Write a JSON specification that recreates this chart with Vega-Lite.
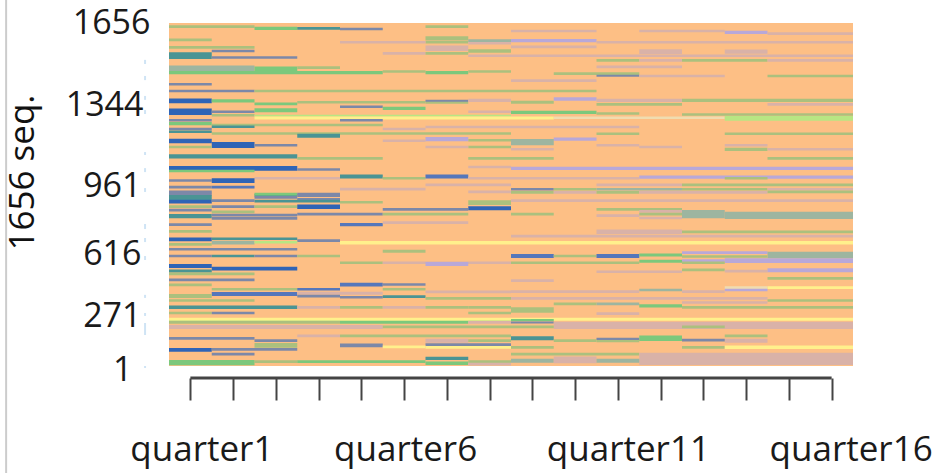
{"$schema":"https://vega.github.io/schema/vega-lite/v6.json","width":684,"height":355,"autosize":"none","padding":{"left":169,"top":23,"right":82,"bottom":95},"background":"white","view":{"stroke":null},
"encoding":{"x":{"field":"q0","type":"quantitative","scale":{"domain":[0.5,16.5],"nice":false,"zero":false},"axis":{"values":[1,2,3,4,5,6,7,8,9,10,11,12,13,14,15,16],"title":null,"domain":false,"grid":false,"tickColor":"#444444","tickWidth":2,"tickSize":22,"labelFont":"Open Sans","labelFontSize":35,"labelColor":"#1a1a1a","labelPadding":32,"labelOverlap":false,"labelBound":false,"labelFlush":false,"labelExpr":"(datum.value==1||datum.value==6||datum.value==11||datum.value==16)?'quarter'+datum.value:''","labelOffset":{"condition":[{"test":"datum.value==1","value":11},{"test":"datum.value==11","value":10},{"test":"datum.value==16","value":19}],"value":1}}},
"y":{"field":"seq0","type":"quantitative","scale":{"domain":[-60,1,271,616,961,1344,1656],"range":[355,343,290,228,161,81,0],"nice":false,"zero":false},"axis":{"values":[1,271,616,961,1344,1656],"format":"d","title":"1656 seq.","titleFont":"Open Sans","titleFontSize":35,"titleFontWeight":"normal","titleColor":"#111111","titleX":-147,"titleY":149,"titleAngle":270,"titleAlign":"center","titleBaseline":"middle","domain":false,"grid":false,"ticks":false,"labelFont":"Open Sans","labelFontSize":34,"labelColor":"#1a1a1a","labelBaseline":"middle","labelAlign":"right","labelOffset":{"condition":[{"test":"datum.value==1656","value":0},{"test":"datum.value==1344","value":1},{"test":"datum.value==961","value":2},{"test":"datum.value==1","value":4}],"value":3},"labelPadding":{"condition":[{"test":"datum.value==1656","value":19},{"test":"datum.value==1344","value":26},{"test":"datum.value==1","value":37}],"value":28}}}},
"layer":[
{"mark":{"type":"rect","strokeWidth":0},"encoding":{"x2":{"field":"q1"},"y2":{"field":"seq1"},"color":{"field":"state","type":"nominal","legend":null,"scale":{"domain":["orange","green","sage","blue","slate","teal","purple","mauve","yellow","lime","grey","azure","pale"],"range":["#fdbf85","#7cc87c","#abc07e","#2f64b6","#7c88a8","#4a9494","#b8a8d8","#d9b2a8","#fff08c","#b8e683","#9db5a0","#5577bb","#f0dcb0"]}}},
"data":{"values":[
{"q0":0.5,"q1":16.5,"seq0":1,"seq1":1656,"state":"orange"},
{"q0":0.5,"q1":2.5,"seq0":1637,"seq1":1647,"state":"sage"},
{"q0":2.5,"q1":3.5,"seq0":1629,"seq1":1642,"state":"green"},
{"q0":3.5,"q1":4.5,"seq0":1630,"seq1":1641,"state":"teal"},
{"q0":4.5,"q1":5.5,"seq0":1628,"seq1":1638,"state":"slate"},
{"q0":6.5,"q1":7.5,"seq0":1637,"seq1":1647,"state":"sage"},
{"q0":8.5,"q1":10.5,"seq0":1620,"seq1":1630,"state":"mauve"},
{"q0":11.5,"q1":13.5,"seq0":1620,"seq1":1630,"state":"mauve"},
{"q0":13.5,"q1":14.5,"seq0":1614,"seq1":1626,"state":"purple"},
{"q0":14.5,"q1":16.5,"seq0":1610,"seq1":1620,"state":"mauve"},
{"q0":8.5,"q1":10.5,"seq0":1582,"seq1":1594,"state":"purple"},
{"q0":10.5,"q1":16.5,"seq0":1577,"seq1":1587,"state":"mauve"},
{"q0":8.5,"q1":10.5,"seq0":1559,"seq1":1569,"state":"mauve"},
{"q0":11.5,"q1":12.5,"seq0":1537,"seq1":1555,"state":"mauve"},
{"q0":13.5,"q1":14.5,"seq0":1538,"seq1":1554,"state":"mauve"},
{"q0":8.5,"q1":16.5,"seq0":1525,"seq1":1535,"state":"mauve"},
{"q0":10.5,"q1":11.5,"seq0":1507,"seq1":1517,"state":"sage"},
{"q0":11.5,"q1":12.5,"seq0":1507,"seq1":1517,"state":"mauve"},
{"q0":12.5,"q1":14.5,"seq0":1507,"seq1":1517,"state":"sage"},
{"q0":14.5,"q1":16.5,"seq0":1507,"seq1":1517,"state":"mauve"},
{"q0":10.5,"q1":12.5,"seq0":1482,"seq1":1492,"state":"mauve"},
{"q0":9.5,"q1":11.5,"seq0":1456,"seq1":1466,"state":"sage"},
{"q0":10.5,"q1":11.5,"seq0":1449,"seq1":1457,"state":"slate"},
{"q0":11.5,"q1":13.5,"seq0":1447,"seq1":1457,"state":"mauve"},
{"q0":14.5,"q1":16.5,"seq0":1447,"seq1":1457,"state":"sage"},
{"q0":8.5,"q1":10.5,"seq0":1429,"seq1":1439,"state":"mauve"},
{"q0":0.5,"q1":1.5,"seq0":1586,"seq1":1596,"state":"sage"},
{"q0":6.5,"q1":7.5,"seq0":1589,"seq1":1605,"state":"sage"},
{"q0":6.5,"q1":7.5,"seq0":1577,"seq1":1587,"state":"sage"},
{"q0":4.5,"q1":6.5,"seq0":1577,"seq1":1587,"state":"mauve"},
{"q0":7.5,"q1":8.5,"seq0":1583,"seq1":1593,"state":"grey"},
{"q0":7.5,"q1":8.5,"seq0":1573,"seq1":1583,"state":"mauve"},
{"q0":0.5,"q1":2.5,"seq0":1557,"seq1":1567,"state":"sage"},
{"q0":6.5,"q1":7.5,"seq0":1548,"seq1":1569,"state":"mauve"},
{"q0":1.5,"q1":2.5,"seq0":1543,"seq1":1553,"state":"slate"},
{"q0":0.5,"q1":1.5,"seq0":1517,"seq1":1543,"state":"teal"},
{"q0":1.5,"q1":3.5,"seq0":1518,"seq1":1528,"state":"slate"},
{"q0":5.5,"q1":6.5,"seq0":1534,"seq1":1544,"state":"mauve"},
{"q0":6.5,"q1":7.5,"seq0":1534,"seq1":1544,"state":"sage"},
{"q0":7.5,"q1":8.5,"seq0":1541,"seq1":1555,"state":"sage"},
{"q0":7.5,"q1":8.5,"seq0":1525,"seq1":1535,"state":"mauve"},
{"q0":0.5,"q1":2.5,"seq0":1471,"seq1":1492,"state":"grey"},
{"q0":2.5,"q1":3.5,"seq0":1467,"seq1":1488,"state":"green"},
{"q0":3.5,"q1":4.5,"seq0":1479,"seq1":1489,"state":"sage"},
{"q0":0.5,"q1":5.5,"seq0":1459,"seq1":1471,"state":"green"},
{"q0":5.5,"q1":6.5,"seq0":1464,"seq1":1474,"state":"sage"},
{"q0":6.5,"q1":7.5,"seq0":1459,"seq1":1471,"state":"green"},
{"q0":7.5,"q1":8.5,"seq0":1464,"seq1":1474,"state":"sage"},
{"q0":0.5,"q1":1.5,"seq0":1415,"seq1":1425,"state":"slate"},
{"q0":0.5,"q1":2.5,"seq0":1389,"seq1":1399,"state":"slate"},
{"q0":2.5,"q1":10.5,"seq0":1389,"seq1":1399,"state":"sage"},
{"q0":0.5,"q1":1.5,"seq0":1347,"seq1":1365,"state":"blue"},
{"q0":1.5,"q1":2.5,"seq0":1350,"seq1":1362,"state":"green"},
{"q0":2.5,"q1":3.5,"seq0":1338,"seq1":1350,"state":"green"},
{"q0":3.5,"q1":6.5,"seq0":1346,"seq1":1356,"state":"sage"},
{"q0":4.5,"q1":5.5,"seq0":1325,"seq1":1337,"state":"slate"},
{"q0":5.5,"q1":6.5,"seq0":1315,"seq1":1331,"state":"green"},
{"q0":6.5,"q1":7.5,"seq0":1352,"seq1":1360,"state":"slate"},
{"q0":6.5,"q1":7.5,"seq0":1345,"seq1":1353,"state":"sage"},
{"q0":7.5,"q1":8.5,"seq0":1352,"seq1":1364,"state":"mauve"},
{"q0":8.5,"q1":9.5,"seq0":1345,"seq1":1357,"state":"sage"},
{"q0":9.5,"q1":10.5,"seq0":1357,"seq1":1370,"state":"purple"},
{"q0":10.5,"q1":12.5,"seq0":1352,"seq1":1364,"state":"mauve"},
{"q0":12.5,"q1":16.5,"seq0":1352,"seq1":1364,"state":"sage"},
{"q0":10.5,"q1":12.5,"seq0":1336,"seq1":1348,"state":"sage"},
{"q0":14.5,"q1":16.5,"seq0":1336,"seq1":1348,"state":"mauve"},
{"q0":0.5,"q1":1.5,"seq0":1291,"seq1":1323,"state":"blue"},
{"q0":1.5,"q1":2.5,"seq0":1301,"seq1":1313,"state":"slate"},
{"q0":1.5,"q1":2.5,"seq0":1284,"seq1":1296,"state":"sage"},
{"q0":2.5,"q1":3.5,"seq0":1304,"seq1":1324,"state":"green"},
{"q0":7.5,"q1":8.5,"seq0":1301,"seq1":1313,"state":"mauve"},
{"q0":8.5,"q1":10.5,"seq0":1296,"seq1":1312,"state":"green"},
{"q0":10.5,"q1":11.5,"seq0":1292,"seq1":1304,"state":"sage"},
{"q0":12.5,"q1":16.5,"seq0":1288,"seq1":1300,"state":"sage"},
{"q0":2.5,"q1":8.5,"seq0":1284,"seq1":1292,"state":"lime"},
{"q0":2.5,"q1":9.5,"seq0":1270,"seq1":1284,"state":"yellow"},
{"q0":9.5,"q1":13.5,"seq0":1272,"seq1":1284,"state":"pale"},
{"q0":13.5,"q1":16.5,"seq0":1264,"seq1":1286,"state":"lime"},
{"q0":0.5,"q1":1.5,"seq0":1260,"seq1":1272,"state":"slate"},
{"q0":4.5,"q1":5.5,"seq0":1260,"seq1":1272,"state":"slate"},
{"q0":0.5,"q1":1.5,"seq0":1242,"seq1":1258,"state":"green"},
{"q0":1.5,"q1":5.5,"seq0":1237,"seq1":1250,"state":"sage"},
{"q0":1.5,"q1":2.5,"seq0":1229,"seq1":1241,"state":"teal"},
{"q0":0.5,"q1":1.5,"seq0":1218,"seq1":1230,"state":"slate"},
{"q0":5.5,"q1":6.5,"seq0":1218,"seq1":1230,"state":"mauve"},
{"q0":6.5,"q1":11.5,"seq0":1228,"seq1":1240,"state":"mauve"},
{"q0":0.5,"q1":1.5,"seq0":1205,"seq1":1217,"state":"teal"},
{"q0":1.5,"q1":8.5,"seq0":1197,"seq1":1209,"state":"sage"},
{"q0":10.5,"q1":11.5,"seq0":1196,"seq1":1208,"state":"sage"},
{"q0":13.5,"q1":16.5,"seq0":1196,"seq1":1208,"state":"sage"},
{"q0":3.5,"q1":4.5,"seq0":1182,"seq1":1202,"state":"teal"},
{"q0":9.5,"q1":10.5,"seq0":1168,"seq1":1184,"state":"purple"},
{"q0":8.5,"q1":9.5,"seq0":1146,"seq1":1176,"state":"grey"},
{"q0":7.5,"q1":8.5,"seq0":1164,"seq1":1176,"state":"sage"},
{"q0":8.5,"q1":9.5,"seq0":1121,"seq1":1133,"state":"mauve"},
{"q0":7.5,"q1":8.5,"seq0":1132,"seq1":1144,"state":"sage"},
{"q0":10.5,"q1":11.5,"seq0":1141,"seq1":1153,"state":"mauve"},
{"q0":11.5,"q1":12.5,"seq0":1132,"seq1":1144,"state":"mauve"},
{"q0":13.5,"q1":14.5,"seq0":1141,"seq1":1153,"state":"mauve"},
{"q0":13.5,"q1":14.5,"seq0":1119,"seq1":1135,"state":"sage"},
{"q0":14.5,"q1":16.5,"seq0":1121,"seq1":1133,"state":"mauve"},
{"q0":0.5,"q1":1.5,"seq0":1156,"seq1":1178,"state":"blue"},
{"q0":1.5,"q1":2.5,"seq0":1133,"seq1":1162,"state":"blue"},
{"q0":2.5,"q1":3.5,"seq0":1141,"seq1":1153,"state":"slate"},
{"q0":0.5,"q1":1.5,"seq0":1132,"seq1":1144,"state":"sage"},
{"q0":5.5,"q1":6.5,"seq0":1162,"seq1":1174,"state":"mauve"},
{"q0":6.5,"q1":7.5,"seq0":1166,"seq1":1186,"state":"purple"},
{"q0":6.5,"q1":7.5,"seq0":1132,"seq1":1144,"state":"mauve"},
{"q0":0.5,"q1":3.5,"seq0":1083,"seq1":1103,"state":"teal"},
{"q0":3.5,"q1":5.5,"seq0":1077,"seq1":1090,"state":"sage"},
{"q0":7.5,"q1":9.5,"seq0":1077,"seq1":1090,"state":"sage"},
{"q0":14.5,"q1":16.5,"seq0":1077,"seq1":1090,"state":"sage"},
{"q0":0.5,"q1":3.5,"seq0":1025,"seq1":1047,"state":"blue"},
{"q0":3.5,"q1":4.5,"seq0":1025,"seq1":1037,"state":"slate"},
{"q0":0.5,"q1":2.5,"seq0":1017,"seq1":1029,"state":"green"},
{"q0":7.5,"q1":8.5,"seq0":1036,"seq1":1048,"state":"mauve"},
{"q0":8.5,"q1":16.5,"seq0":1028,"seq1":1044,"state":"purple"},
{"q0":4.5,"q1":5.5,"seq0":987,"seq1":1007,"state":"teal"},
{"q0":5.5,"q1":6.5,"seq0":982,"seq1":994,"state":"sage"},
{"q0":6.5,"q1":7.5,"seq0":987,"seq1":1007,"state":"azure"},
{"q0":2.5,"q1":4.5,"seq0":982,"seq1":994,"state":"mauve"},
{"q0":7.5,"q1":11.5,"seq0":982,"seq1":994,"state":"mauve"},
{"q0":11.5,"q1":16.5,"seq0":986,"seq1":1002,"state":"purple"},
{"q0":13.5,"q1":14.5,"seq0":982,"seq1":994,"state":"sage"},
{"q0":0.5,"q1":1.5,"seq0":972,"seq1":984,"state":"slate"},
{"q0":1.5,"q1":2.5,"seq0":966,"seq1":988,"state":"blue"},
{"q0":6.5,"q1":8.5,"seq0":949,"seq1":963,"state":"mauve"},
{"q0":10.5,"q1":12.5,"seq0":949,"seq1":963,"state":"mauve"},
{"q0":12.5,"q1":16.5,"seq0":949,"seq1":963,"state":"sage"},
{"q0":0.5,"q1":1.5,"seq0":938,"seq1":952,"state":"slate"},
{"q0":1.5,"q1":2.5,"seq0":938,"seq1":952,"state":"azure"},
{"q0":4.5,"q1":6.5,"seq0":928,"seq1":942,"state":"mauve"},
{"q0":8.5,"q1":9.5,"seq0":927,"seq1":941,"state":"slate"},
{"q0":9.5,"q1":10.5,"seq0":927,"seq1":941,"state":"sage"},
{"q0":10.5,"q1":12.5,"seq0":927,"seq1":941,"state":"grey"},
{"q0":12.5,"q1":14.5,"seq0":927,"seq1":941,"state":"sage"},
{"q0":14.5,"q1":16.5,"seq0":927,"seq1":941,"state":"mauve"},
{"q0":0.5,"q1":1.5,"seq0":914,"seq1":928,"state":"slate"},
{"q0":7.5,"q1":8.5,"seq0":914,"seq1":928,"state":"mauve"},
{"q0":8.5,"q1":9.5,"seq0":911,"seq1":925,"state":"sage"},
{"q0":9.5,"q1":10.5,"seq0":911,"seq1":925,"state":"mauve"},
{"q0":10.5,"q1":11.5,"seq0":911,"seq1":925,"state":"sage"},
{"q0":11.5,"q1":14.5,"seq0":911,"seq1":925,"state":"mauve"},
{"q0":14.5,"q1":16.5,"seq0":914,"seq1":928,"state":"sage"},
{"q0":2.5,"q1":3.5,"seq0":897,"seq1":911,"state":"teal"},
{"q0":2.5,"q1":3.5,"seq0":902,"seq1":916,"state":"green"},
{"q0":3.5,"q1":4.5,"seq0":902,"seq1":916,"state":"slate"},
{"q0":0.5,"q1":1.5,"seq0":902,"seq1":916,"state":"slate"},
{"q0":0.5,"q1":1.5,"seq0":879,"seq1":904,"state":"teal"},
{"q0":3.5,"q1":4.5,"seq0":894,"seq1":908,"state":"slate"},
{"q0":2.5,"q1":3.5,"seq0":885,"seq1":899,"state":"slate"},
{"q0":3.5,"q1":4.5,"seq0":875,"seq1":889,"state":"slate"},
{"q0":0.5,"q1":1.5,"seq0":860,"seq1":880,"state":"blue"},
{"q0":1.5,"q1":2.5,"seq0":868,"seq1":882,"state":"slate"},
{"q0":2.5,"q1":4.5,"seq0":866,"seq1":880,"state":"teal"},
{"q0":4.5,"q1":5.5,"seq0":860,"seq1":874,"state":"sage"},
{"q0":7.5,"q1":8.5,"seq0":853,"seq1":877,"state":"sage"},
{"q0":8.5,"q1":16.5,"seq0":868,"seq1":882,"state":"mauve"},
{"q0":0.5,"q1":1.5,"seq0":837,"seq1":851,"state":"sage"},
{"q0":1.5,"q1":2.5,"seq0":837,"seq1":851,"state":"slate"},
{"q0":2.5,"q1":3.5,"seq0":837,"seq1":851,"state":"sage"},
{"q0":3.5,"q1":4.5,"seq0":832,"seq1":856,"state":"blue"},
{"q0":7.5,"q1":8.5,"seq0":826,"seq1":846,"state":"blue"},
{"q0":0.5,"q1":1.5,"seq0":820,"seq1":834,"state":"slate"},
{"q0":1.5,"q1":2.5,"seq0":811,"seq1":825,"state":"sage"},
{"q0":5.5,"q1":7.5,"seq0":823,"seq1":837,"state":"slate"},
{"q0":10.5,"q1":12.5,"seq0":823,"seq1":837,"state":"sage"},
{"q0":12.5,"q1":13.5,"seq0":784,"seq1":827,"state":"grey"},
{"q0":13.5,"q1":16.5,"seq0":781,"seq1":818,"state":"grey"},
{"q0":11.5,"q1":12.5,"seq0":813,"seq1":827,"state":"mauve"},
{"q0":8.5,"q1":9.5,"seq0":799,"seq1":813,"state":"sage"},
{"q0":10.5,"q1":11.5,"seq0":791,"seq1":805,"state":"mauve"},
{"q0":11.5,"q1":12.5,"seq0":799,"seq1":813,"state":"sage"},
{"q0":11.5,"q1":12.5,"seq0":779,"seq1":793,"state":"mauve"},
{"q0":0.5,"q1":1.5,"seq0":784,"seq1":806,"state":"teal"},
{"q0":1.5,"q1":3.5,"seq0":794,"seq1":808,"state":"slate"},
{"q0":1.5,"q1":3.5,"seq0":777,"seq1":791,"state":"slate"},
{"q0":3.5,"q1":5.5,"seq0":799,"seq1":813,"state":"slate"},
{"q0":5.5,"q1":7.5,"seq0":799,"seq1":813,"state":"sage"},
{"q0":0.5,"q1":1.5,"seq0":745,"seq1":759,"state":"slate"},
{"q0":4.5,"q1":5.5,"seq0":744,"seq1":760,"state":"azure"},
{"q0":5.5,"q1":7.5,"seq0":755,"seq1":769,"state":"mauve"},
{"q0":0.5,"q1":1.5,"seq0":710,"seq1":724,"state":"sage"},
{"q0":10.5,"q1":12.5,"seq0":703,"seq1":727,"state":"mauve"},
{"q0":12.5,"q1":16.5,"seq0":708,"seq1":722,"state":"sage"},
{"q0":8.5,"q1":16.5,"seq0":686,"seq1":700,"state":"mauve"},
{"q0":0.5,"q1":1.5,"seq0":666,"seq1":686,"state":"blue"},
{"q0":1.5,"q1":3.5,"seq0":672,"seq1":686,"state":"teal"},
{"q0":3.5,"q1":4.5,"seq0":662,"seq1":676,"state":"slate"},
{"q0":1.5,"q1":2.5,"seq0":649,"seq1":669,"state":"grey"},
{"q0":2.5,"q1":3.5,"seq0":654,"seq1":668,"state":"lime"},
{"q0":4.5,"q1":16.5,"seq0":650,"seq1":668,"state":"yellow"},
{"q0":0.5,"q1":1.5,"seq0":643,"seq1":657,"state":"sage"},
{"q0":0.5,"q1":3.5,"seq0":618,"seq1":632,"state":"slate"},
{"q0":5.5,"q1":6.5,"seq0":606,"seq1":622,"state":"sage"},
{"q0":12.5,"q1":14.5,"seq0":600,"seq1":614,"state":"purple"},
{"q0":14.5,"q1":16.5,"seq0":575,"seq1":612,"state":"grey"},
{"q0":8.5,"q1":9.5,"seq0":577,"seq1":599,"state":"azure"},
{"q0":9.5,"q1":10.5,"seq0":581,"seq1":595,"state":"sage"},
{"q0":10.5,"q1":11.5,"seq0":577,"seq1":599,"state":"azure"},
{"q0":11.5,"q1":12.5,"seq0":586,"seq1":602,"state":"green"},
{"q0":12.5,"q1":14.5,"seq0":578,"seq1":592,"state":"sage"},
{"q0":0.5,"q1":1.5,"seq0":581,"seq1":595,"state":"slate"},
{"q0":1.5,"q1":2.5,"seq0":581,"seq1":595,"state":"teal"},
{"q0":2.5,"q1":3.5,"seq0":581,"seq1":595,"state":"slate"},
{"q0":3.5,"q1":4.5,"seq0":581,"seq1":595,"state":"sage"},
{"q0":4.5,"q1":5.5,"seq0":544,"seq1":558,"state":"sage"},
{"q0":5.5,"q1":8.5,"seq0":544,"seq1":558,"state":"mauve"},
{"q0":6.5,"q1":7.5,"seq0":533,"seq1":555,"state":"purple"},
{"q0":12.5,"q1":13.5,"seq0":555,"seq1":570,"state":"purple"},
{"q0":13.5,"q1":16.5,"seq0":549,"seq1":575,"state":"purple"},
{"q0":11.5,"q1":12.5,"seq0":551,"seq1":567,"state":"green"},
{"q0":8.5,"q1":11.5,"seq0":544,"seq1":558,"state":"sage"},
{"q0":12.5,"q1":13.5,"seq0":544,"seq1":558,"state":"sage"},
{"q0":0.5,"q1":1.5,"seq0":522,"seq1":544,"state":"blue"},
{"q0":1.5,"q1":3.5,"seq0":507,"seq1":529,"state":"blue"},
{"q0":0.5,"q1":1.5,"seq0":497,"seq1":513,"state":"teal"},
{"q0":0.5,"q1":2.5,"seq0":481,"seq1":496,"state":"sage"},
{"q0":12.5,"q1":13.5,"seq0":503,"seq1":518,"state":"sage"},
{"q0":10.5,"q1":12.5,"seq0":494,"seq1":508,"state":"mauve"},
{"q0":13.5,"q1":14.5,"seq0":497,"seq1":512,"state":"mauve"},
{"q0":14.5,"q1":16.5,"seq0":498,"seq1":520,"state":"purple"},
{"q0":14.5,"q1":16.5,"seq0":456,"seq1":472,"state":"sage"},
{"q0":8.5,"q1":9.5,"seq0":444,"seq1":459,"state":"mauve"},
{"q0":0.5,"q1":2.5,"seq0":448,"seq1":463,"state":"slate"},
{"q0":0.5,"q1":1.5,"seq0":420,"seq1":435,"state":"sage"},
{"q0":4.5,"q1":5.5,"seq0":418,"seq1":440,"state":"azure"},
{"q0":5.5,"q1":6.5,"seq0":422,"seq1":437,"state":"slate"},
{"q0":13.5,"q1":14.5,"seq0":405,"seq1":420,"state":"pale"},
{"q0":14.5,"q1":16.5,"seq0":405,"seq1":420,"state":"yellow"},
{"q0":13.5,"q1":14.5,"seq0":392,"seq1":406,"state":"purple"},
{"q0":11.5,"q1":12.5,"seq0":392,"seq1":406,"state":"grey"},
{"q0":8.5,"q1":11.5,"seq0":382,"seq1":398,"state":"mauve"},
{"q0":12.5,"q1":13.5,"seq0":382,"seq1":398,"state":"mauve"},
{"q0":1.5,"q1":3.5,"seq0":396,"seq1":410,"state":"sage"},
{"q0":3.5,"q1":4.5,"seq0":396,"seq1":410,"state":"azure"},
{"q0":5.5,"q1":6.5,"seq0":396,"seq1":410,"state":"sage"},
{"q0":1.5,"q1":3.5,"seq0":366,"seq1":388,"state":"azure"},
{"q0":3.5,"q1":5.5,"seq0":373,"seq1":389,"state":"mauve"},
{"q0":6.5,"q1":8.5,"seq0":381,"seq1":396,"state":"mauve"},
{"q0":0.5,"q1":1.5,"seq0":355,"seq1":377,"state":"sage"},
{"q0":3.5,"q1":4.5,"seq0":357,"seq1":372,"state":"slate"},
{"q0":4.5,"q1":5.5,"seq0":352,"seq1":366,"state":"slate"},
{"q0":5.5,"q1":6.5,"seq0":355,"seq1":370,"state":"teal"},
{"q0":6.5,"q1":8.5,"seq0":345,"seq1":360,"state":"sage"},
{"q0":8.5,"q1":14.5,"seq0":345,"seq1":360,"state":"mauve"},
{"q0":14.5,"q1":16.5,"seq0":333,"seq1":348,"state":"sage"},
{"q0":0.5,"q1":2.5,"seq0":333,"seq1":348,"state":"sage"},
{"q0":9.5,"q1":10.5,"seq0":314,"seq1":329,"state":"sage"},
{"q0":10.5,"q1":11.5,"seq0":314,"seq1":329,"state":"grey"},
{"q0":11.5,"q1":12.5,"seq0":301,"seq1":319,"state":"green"},
{"q0":12.5,"q1":14.5,"seq0":322,"seq1":336,"state":"mauve"},
{"q0":12.5,"q1":16.5,"seq0":295,"seq1":310,"state":"sage"},
{"q0":8.5,"q1":9.5,"seq0":273,"seq1":303,"state":"sage"},
{"q0":7.5,"q1":8.5,"seq0":295,"seq1":310,"state":"sage"},
{"q0":10.5,"q1":11.5,"seq0":261,"seq1":275,"state":"mauve"},
{"q0":0.5,"q1":3.5,"seq0":293,"seq1":313,"state":"teal"},
{"q0":3.5,"q1":4.5,"seq0":295,"seq1":310,"state":"mauve"},
{"q0":4.5,"q1":5.5,"seq0":295,"seq1":310,"state":"sage"},
{"q0":5.5,"q1":6.5,"seq0":295,"seq1":310,"state":"mauve"},
{"q0":6.5,"q1":7.5,"seq0":295,"seq1":310,"state":"sage"},
{"q0":0.5,"q1":1.5,"seq0":264,"seq1":278,"state":"sage"},
{"q0":1.5,"q1":2.5,"seq0":264,"seq1":278,"state":"slate"},
{"q0":7.5,"q1":8.5,"seq0":264,"seq1":278,"state":"sage"},
{"q0":0.5,"q1":16.5,"seq0":231,"seq1":247,"state":"yellow"},
{"q0":0.5,"q1":8.5,"seq0":227,"seq1":233,"state":"lime"},
{"q0":8.5,"q1":9.5,"seq0":229,"seq1":240,"state":"green"},
{"q0":8.5,"q1":9.5,"seq0":218,"seq1":228,"state":"slate"},
{"q0":0.5,"q1":4.5,"seq0":216,"seq1":230,"state":"sage"},
{"q0":4.5,"q1":7.5,"seq0":216,"seq1":230,"state":"green"},
{"q0":7.5,"q1":8.5,"seq0":216,"seq1":230,"state":"mauve"},
{"q0":9.5,"q1":16.5,"seq0":190,"seq1":227,"state":"mauve"},
{"q0":12.5,"q1":13.5,"seq0":193,"seq1":207,"state":"sage"},
{"q0":0.5,"q1":5.5,"seq0":190,"seq1":210,"state":"mauve"},
{"q0":5.5,"q1":9.5,"seq0":193,"seq1":207,"state":"sage"},
{"q0":3.5,"q1":4.5,"seq0":147,"seq1":161,"state":"mauve"},
{"q0":4.5,"q1":8.5,"seq0":147,"seq1":161,"state":"sage"},
{"q0":13.5,"q1":14.5,"seq0":147,"seq1":161,"state":"sage"},
{"q0":0.5,"q1":2.5,"seq0":135,"seq1":149,"state":"slate"},
{"q0":8.5,"q1":9.5,"seq0":132,"seq1":152,"state":"teal"},
{"q0":2.5,"q1":3.5,"seq0":123,"seq1":137,"state":"slate"},
{"q0":6.5,"q1":7.5,"seq0":120,"seq1":140,"state":"mauve"},
{"q0":7.5,"q1":8.5,"seq0":123,"seq1":137,"state":"sage"},
{"q0":9.5,"q1":10.5,"seq0":123,"seq1":137,"state":"sage"},
{"q0":13.5,"q1":14.5,"seq0":120,"seq1":140,"state":"mauve"},
{"q0":10.5,"q1":11.5,"seq0":133,"seq1":145,"state":"slate"},
{"q0":10.5,"q1":11.5,"seq0":122,"seq1":134,"state":"sage"},
{"q0":11.5,"q1":12.5,"seq0":128,"seq1":156,"state":"green"},
{"q0":12.5,"q1":13.5,"seq0":126,"seq1":140,"state":"slate"},
{"q0":2.5,"q1":3.5,"seq0":94,"seq1":118,"state":"sage"},
{"q0":4.5,"q1":5.5,"seq0":96,"seq1":116,"state":"slate"},
{"q0":6.5,"q1":8.5,"seq0":103,"seq1":117,"state":"slate"},
{"q0":5.5,"q1":6.5,"seq0":92,"seq1":106,"state":"yellow"},
{"q0":6.5,"q1":8.5,"seq0":89,"seq1":103,"state":"yellow"},
{"q0":8.5,"q1":9.5,"seq0":89,"seq1":103,"state":"sage"},
{"q0":12.5,"q1":13.5,"seq0":89,"seq1":103,"state":"sage"},
{"q0":13.5,"q1":16.5,"seq0":87,"seq1":105,"state":"yellow"},
{"q0":0.5,"q1":1.5,"seq0":73,"seq1":93,"state":"blue"},
{"q0":1.5,"q1":3.5,"seq0":79,"seq1":93,"state":"slate"},
{"q0":1.5,"q1":2.5,"seq0":55,"seq1":69,"state":"slate"},
{"q0":8.5,"q1":11.5,"seq0":55,"seq1":69,"state":"sage"},
{"q0":11.5,"q1":16.5,"seq0":6,"seq1":69,"state":"mauve"},
{"q0":8.5,"q1":9.5,"seq0":18,"seq1":38,"state":"grey"},
{"q0":9.5,"q1":10.5,"seq0":15,"seq1":49,"state":"mauve"},
{"q0":10.5,"q1":11.5,"seq0":18,"seq1":38,"state":"grey"},
{"q0":6.5,"q1":7.5,"seq0":32,"seq1":48,"state":"teal"},
{"q0":2.5,"q1":3.5,"seq0":16,"seq1":30,"state":"sage"},
{"q0":3.5,"q1":6.5,"seq0":16,"seq1":30,"state":"green"},
{"q0":0.5,"q1":2.5,"seq0":5,"seq1":32,"state":"green"},
{"q0":6.5,"q1":7.5,"seq0":6,"seq1":24,"state":"green"},
{"q0":7.5,"q1":8.5,"seq0":16,"seq1":30,"state":"sage"},
{"q0":7.5,"q1":8.5,"seq0":4,"seq1":18,"state":"mauve"}
]}},
{"mark":{"type":"rule","color":"#444444","strokeWidth":3,"clip":false},"data":{"values":[{"q0":1,"q1":16,"seq0":-60}]},"encoding":{"x2":{"field":"q1"}}},
{"mark":{"type":"rule","color":"#cfe4f5","strokeWidth":2,"clip":false},"data":{"values":[
{"q0":-0.06,"seq0":1514,"seq1":1498},{"q0":-0.06,"seq0":1452,"seq1":1436},{"q0":-0.06,"seq0":1375,"seq1":1360},{"q0":-0.06,"seq0":1315,"seq1":1296},{"q0":-0.06,"seq0":1114,"seq1":1100},{"q0":-0.06,"seq0":1037,"seq1":1018},{"q0":-0.06,"seq0":940,"seq1":920},{"q0":-0.06,"seq0":755,"seq1":729},{"q0":-0.06,"seq0":683,"seq1":662},{"q0":-0.06,"seq0":588,"seq1":566},{"q0":-0.06,"seq0":372,"seq1":355},{"q0":-0.06,"seq0":271,"seq1":256},{"q0":-0.06,"seq0":220,"seq1":159},{"q0":-0.06,"seq0":1,"seq1":-9}]},"encoding":{"y2":{"field":"seq1"}}},
{"mark":{"type":"rule","color":"#cccccc","strokeWidth":2,"clip":false},"data":{"values":[{"q0":-3.31,"seq0":1745,"seq1":-543},{"q0":18.72,"seq0":1745,"seq1":-543}]},"encoding":{"y2":{"field":"seq1"}}}
]}
